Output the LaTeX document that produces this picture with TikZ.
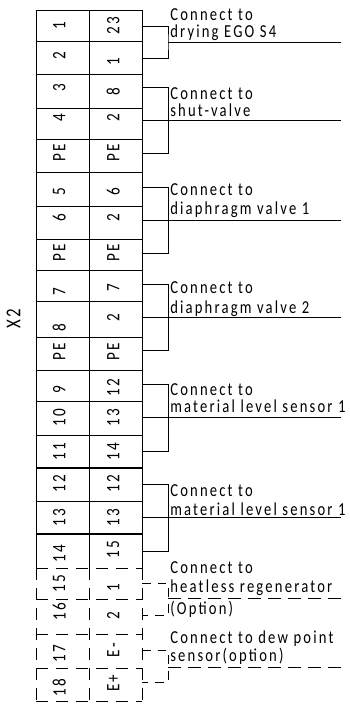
\documentclass[tikz,border=0pt]{standalone}
\usepackage{fontspec}
\setmainfont[LetterSpace=12,FakeStretch=0.8]{Carlito}
\usepackage{tikz}
\tikzset{
  grid line/.style={black, line width=0.6pt},
  bold line/.style={black, line width=1pt},
  option line/.style={black, line width=0.6pt, dash pattern=on 0.3cm off 0.2cm},
  wire/.style={black, line width=0.6pt},
  option wire/.style={black, line width=0.6pt, dash pattern=on 0.22cm off 0.17cm},
  long option/.style={black, line width=0.6pt, dash pattern=on 0.33cm off 0.17cm},
  term/.style={rotate=90, inner sep=0pt, font=\fontsize{13.5}{14}\selectfont},
  note/.style={anchor=base west, inner sep=0pt, font=\fontsize{13}{14}\selectfont}
}
\begin{document}
\begin{tikzpicture}
      \useasboundingbox (0, 0) rectangle (8.75, -17.775);

      % STRIP
      \draw[grid line] (0.9, -0.25) -- (0.9, -14.2);
      \draw[grid line] (2.225, -0.25) -- (2.225, -14.2);
      \draw[grid line] (3.55, -0.25) -- (3.55, -14.2);
      \draw[grid line] (0.9, -0.25) -- (3.55, -0.25);
      \draw[grid line] (0.9, -1.025) -- (3.55, -1.025);
      \draw[grid line] (0.9, -1.85) -- (3.55, -1.85);
      \draw[grid line] (0.9, -2.7) -- (3.55, -2.7);
      \draw[grid line] (0.9, -3.475) -- (3.55, -3.475);
      \draw[grid line] (0.9, -4.3) -- (3.55, -4.3);
      \draw[grid line] (0.9, -5.15) -- (3.55, -5.15);
      \draw[grid line] (0.9, -5.975) -- (3.55, -5.975);
      \draw[grid line] (0.9, -6.75) -- (3.55, -6.75);
      \draw[grid line] (0.9, -7.525) -- (3.55, -7.525);
      \draw[grid line] (0.9, -8.425) -- (3.55, -8.425);
      \draw[grid line] (0.9, -9.25) -- (3.55, -9.25);
      \draw[grid line] (0.9, -10.025) -- (3.55, -10.025);
      \draw[grid line] (0.9, -10.875) -- (3.55, -10.875);
      \draw[bold line] (0.9, -11.7) -- (3.55, -11.7);
      \draw[grid line] (0.9, -12.525) -- (3.55, -12.525);
      \draw[bold line] (0.9, -13.35) -- (3.55, -13.35);

      % Optional part of the strip
      \draw[option line] (0.9, -14.2) -- (0.9, -17.525);
      \draw[option line] (2.225, -14.2) -- (2.225, -17.525);
      \draw[option line] (3.55, -14.2) -- (3.55, -17.525);
      \draw[option line] (0.9, -14.2) -- (3.55, -14.2);
      \draw[option line] (0.9, -14.975) -- (3.55, -14.975);
      \draw[option line] (0.9, -15.85) -- (3.55, -15.85);
      \draw[option line] (0.9, -16.7) -- (3.55, -16.7);
      \draw[option line] (0.9, -17.525) -- (3.55, -17.525);

      % Strip name
      \node[term, font=\fontsize{15}{16}\selectfont] (stripname) at (0.34, -7.97) {X2};

      % Left column
      \node[term] (l1) at (1.48, -0.63) {1};
      \node[term] (l2) at (1.48, -1.38) {2};
      \node[term] (l3) at (1.48, -2.2) {3};
      \node[term] (l4) at (1.48, -2.95) {4};
      \node[term] (lpea) at (1.48, -3.83) {PE};
      \node[term] (l5) at (1.48, -4.8) {5};
      \node[term] (l6) at (1.48, -5.45) {6};
      \node[term] (lpeb) at (1.48, -6.33) {PE};
      \node[term] (l7) at (1.48, -7.3) {7};
      \node[term] (l8) at (1.48, -8.18) {8};
      \node[term] (lpec) at (1.48, -8.8) {PE};
      \node[term] (l9) at (1.48, -9.75) {9};
      \node[term] (l10) at (1.48, -10.43) {10};
      \node[term] (l11) at (1.48, -11.3) {11};
      \node[term] (l12) at (1.48, -12.08) {12};
      \node[term] (l13) at (1.48, -12.95) {13};
      \node[term] (l14) at (1.48, -13.85) {14};
      \node[term] (l15) at (1.48, -14.6) {15};
      \node[term] (l16) at (1.48, -15.3) {16};
      \node[term] (l17) at (1.48, -16.33) {17};
      \node[term] (l18) at (1.48, -17.18) {18};

      % Right column
      \node[term] (r23) at (2.83, -0.65) {23};
      \node[term] (r1) at (2.83, -1.55) {1};
      \node[term] (r8) at (2.83, -2.3) {8};
      \node[term] (r2a) at (2.83, -2.93) {2};
      \node[term] (rpea) at (2.83, -3.83) {PE};
      \node[term] (r6) at (2.83, -4.8) {6};
      \node[term] (r2b) at (2.83, -5.45) {2};
      \node[term] (rpeb) at (2.83, -6.33) {PE};
      \node[term] (r7) at (2.83, -7.2) {7};
      \node[term] (r2c) at (2.83, -7.95) {2};
      \node[term] (rpec) at (2.83, -8.8) {PE};
      \node[term] (r12a) at (2.83, -9.68) {12};
      \node[term] (r13a) at (2.83, -10.45) {13};
      \node[term] (r14) at (2.83, -11.3) {14};
      \node[term] (r12b) at (2.83, -12.08) {12};
      \node[term] (r13b) at (2.83, -12.95) {13};
      \node[term] (r15) at (2.83, -13.75) {15};
      \node[term] (r1b) at (2.83, -14.7) {1};
      \node[term] (r2d) at (2.83, -15.38) {2};
      \node[term] (remin) at (2.83, -16.25) {E-};
      \node[term] (replus) at (2.83, -17.08) {E+};

      % Drying
      \coordinate (dryA) at (3.55, -0.65);
      \coordinate (dryB) at (3.55, -1.45);
      \coordinate (dryJ) at (4.2, -1.05);
      \coordinate (dryE) at (8.525, -1.05);
      \draw[wire] (dryA) -| (dryJ) |- (dryB);
      \draw[wire] (dryJ) -- (dryE);
      \node[note] (dryt) at (4.25, -0.52) {Connect to};
      \node[note] (dryb) at (4.25, -0.925) {drying EGO S4};

      % Shut valve
      \coordinate (shutA) at (3.55, -2.175);
      \coordinate (shutB) at (3.55, -3);
      \coordinate (shutC) at (3.55, -3.825);
      \coordinate (shutE) at (8.525, -3);
      \draw[wire] (shutA) -| (4.2, -3.825) -- (shutC);
      \draw[wire] (shutB) -- (shutE);
      \node[note] (shutt) at (4.25, -2.475) {Connect to};
      \node[note] (shutb) at (4.25, -2.9) {shut-valve};

      % Diaphragm 1
      \coordinate (diaA) at (3.55, -4.675);
      \coordinate (diaB) at (3.55, -5.5);
      \coordinate (diaC) at (3.55, -6.325);
      \coordinate (diaE) at (8.525, -5.5);
      \draw[wire] (diaA) -| (4.2, -6.325) -- (diaC);
      \draw[wire] (diaB) -- (diaE);
      \node[note] (diat) at (4.25, -4.875) {Connect to};
      \node[note] (diab) at (4.25, -5.35) {diaphragm valve 1};

      % Diaphragm 2
      \coordinate (dibA) at (3.55, -7.1);
      \coordinate (dibB) at (3.55, -7.925);
      \coordinate (dibC) at (3.55, -8.75);
      \coordinate (dibE) at (8.525, -7.925);
      \draw[wire] (dibA) -| (4.2, -8.75) -- (dibC);
      \draw[wire] (dibB) -- (dibE);
      \node[note] (dibt) at (4.25, -7.325) {Connect to};
      \node[note] (dibb) at (4.25, -7.825) {diaphragm valve 2};

      % Level sensor, upper
      \coordinate (lvaA) at (3.55, -9.6);
      \coordinate (lvaB) at (3.55, -10.425);
      \coordinate (lvaC) at (3.55, -11.275);
      \coordinate (lvaE) at (8.525, -10.425);
      \draw[wire] (lvaA) -| (4.2, -11.275) -- (lvaC);
      \draw[wire] (lvaB) -- (lvaE);
      \node[note] (lvat) at (4.25, -9.875) {Connect to};
      \node[note] (lvab) at (4.25, -10.3) {material level sensor 1};

      % Level sensor, lower
      \coordinate (lvbA) at (3.55, -12.1);
      \coordinate (lvbB) at (3.55, -12.925);
      \coordinate (lvbC) at (3.55, -13.775);
      \coordinate (lvbE) at (8.525, -12.925);
      \draw[wire] (lvbA) -| (4.2, -13.775) -- (lvbC);
      \draw[wire] (lvbB) -- (lvbE);
      \node[note] (lvbt) at (4.25, -12.42) {Connect to};
      \node[note] (lvbb) at (4.25, -12.875) {material level sensor 1};

      % Regenerator (option)
      \coordinate (regA) at (3.55, -14.575);
      \coordinate (regB) at (3.55, -15.375);
      \coordinate (regJ) at (4.2, -14.95);
      \coordinate (regE) at (8.525, -14.95);
      \draw[option wire] (regA) -| (regJ) |- (regB);
      \draw[long option] (regJ) -- (regE);
      \node[note] (regt) at (4.25, -14.325) {Connect to};
      \node[note] (regb) at (4.25, -14.8) {heatless regenerator};
      \node[note] (rego) at (4.25, -15.35) {(Option)};

      % Dew point (option)
      \coordinate (dewA) at (3.55, -16.25);
      \coordinate (dewB) at (3.55, -17.05);
      \coordinate (dewJ) at (4.2, -16.675);
      \coordinate (dewE) at (8.525, -16.675);
      \draw[option wire] (dewA) -| (dewJ) |- (dewB);
      \draw[long option] (dewJ) -- (dewE);
      \node[note] (dewt) at (4.25, -16.075) {Connect to dew point};
      \node[note] (dewb) at (4.25, -16.525) {sensor(option)};
\end{tikzpicture}
\end{document}
